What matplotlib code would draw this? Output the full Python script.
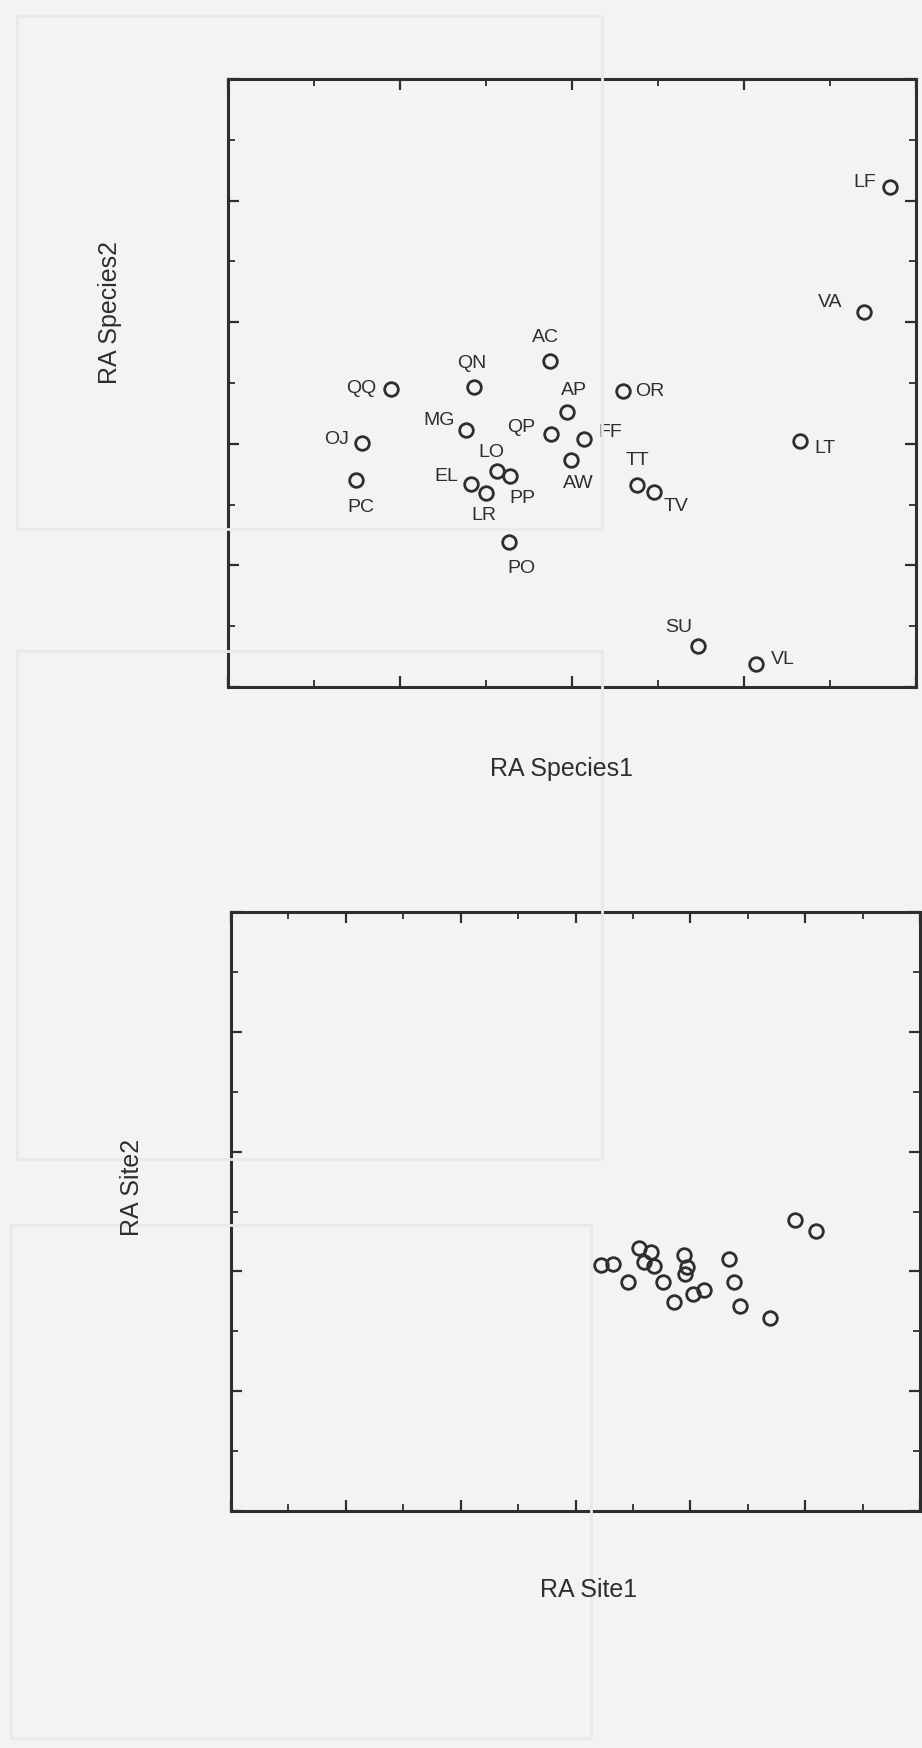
import matplotlib
matplotlib.use("Agg")
import matplotlib.pyplot as plt
from matplotlib.ticker import MultipleLocator
from matplotlib.patches import Rectangle

# species ordination (RA axis 1 / axis 2, arbitrary units)
species = ["LF", "VA", "AC", "QN", "QQ", "OR", "AP", "MG", "QP", "FF", "OJ", "LT",
           "AW", "LO", "PP", "EL", "LR", "PC", "TT", "TV", "PO", "SU", "VL"]
sp_x = [7.70, 7.39, 3.74, 2.86, 1.90, 4.59, 3.94, 2.77, 3.76, 4.14, 1.56, 6.65,
        3.99, 3.13, 3.28, 2.83, 3.00, 1.49, 4.76, 4.95, 3.27, 5.47, 6.14]
sp_y = [8.22, 6.17, 5.36, 4.93, 4.90, 4.87, 4.52, 4.23, 4.16, 4.08, 4.01, 4.05,
        3.73, 3.55, 3.47, 3.34, 3.19, 3.40, 3.32, 3.21, 2.38, 0.67, 0.38]

# site ordination
site_x = [9.83, 10.19, 7.11, 7.31, 7.89, 8.68, 6.44, 6.66, 7.20, 7.36,
          7.95, 7.91, 6.91, 7.53, 8.76, 8.05, 8.23, 7.71, 8.86, 9.39]
site_y = [4.85, 4.68, 4.39, 4.32, 4.27, 4.21, 4.10, 4.12, 4.15, 4.09,
          4.07, 3.96, 3.82, 3.82, 3.82, 3.63, 3.69, 3.49, 3.42, 3.22]

# where each species label sits relative to its circle (pixels, x right / y up)
label_offset = {
    "LF": (-25, 6), "VA": (-33, 10), "AC": (-4, 25), "QN": (-2, 25), "QQ": (-30, 2),
    "OR": (27, 0), "AP": (7, 23), "MG": (-27, 10), "QP": (-30, 8), "FF": (26, 7),
    "OJ": (-26, 5), "LT": (25, -7), "AW": (7, -22), "LO": (-6, 20), "PP": (12, -21),
    "EL": (-25, 8), "LR": (-2, -21), "PC": (5, -26), "TT": (0, 26), "TV": (22, -14),
    "PO": (12, -25), "SU": (-20, 20), "VL": (27, 5),
}

plt.rcParams['font.family'] = ['Liberation Sans', 'DejaVu Sans']
ink = "#2e2e2e"
paper = "#f3f3f1"

fig = plt.figure(figsize=(9.22, 17.49), dpi=100, facecolor=paper)

# faint show-through frames from the scan
for (x0, y0, x1, y1) in [(17, 17, 602, 530), (17, 652, 602, 1160), (11, 1226, 591, 1739)]:
    fig.patches.append(Rectangle((x0 / 922, 1 - y1 / 1749), (x1 - x0) / 922, (y1 - y0) / 1749,
                                 transform=fig.transFigure, fill=False,
                                 edgecolor="#e9e9e7", linewidth=2))


def style_axes(ax, xmax, ymax):
    ax.set_facecolor("none")
    ax.set_xlim(0, xmax)
    ax.set_ylim(0, ymax)
    ax.xaxis.set_major_locator(MultipleLocator(2))
    ax.xaxis.set_minor_locator(MultipleLocator(1))
    ax.yaxis.set_major_locator(MultipleLocator(2))
    ax.yaxis.set_minor_locator(MultipleLocator(1))
    ax.tick_params(which="both", direction="in", top=True, right=True,
                   labelbottom=False, labelleft=False, color=ink)
    ax.tick_params(which="major", length=8, width=1.6)
    ax.tick_params(which="minor", length=5, width=1.3)
    for s in ax.spines.values():
        s.set_color(ink)
        s.set_linewidth(2.2)


# top: species
ax1 = fig.add_axes([228 / 922, 1 - 688 / 1749, 688 / 922, 608 / 1749])
style_axes(ax1, 8, 10)
ax1.plot(sp_x, sp_y, linestyle="none", marker="o", markersize=9.8,
         markerfacecolor="none", markeredgecolor=ink, markeredgewidth=2.0, clip_on=False)
for name, x, y in zip(species, sp_x, sp_y):
    dx, dy = label_offset[name]
    ax1.annotate(name, (x, y), xytext=(dx, dy), textcoords="offset pixels",
                 ha="center", va="center", fontsize=14, color=ink)

# bottom: sites
ax2 = fig.add_axes([231 / 922, 1 - 1512 / 1749, 689 / 922, 599 / 1749])
style_axes(ax2, 12, 10)
ax2.plot(site_x, site_y, linestyle="none", marker="o", markersize=9.8,
         markerfacecolor="none", markeredgecolor=ink, markeredgewidth=2.0)

fig.text(110 / 922, 1 - 312 / 1749, "RA Species2", rotation=90, ha="center", va="center",
         fontsize=18, color=ink)
fig.text(561 / 922, 1 - 769 / 1749, "RA Species1", ha="center", va="center",
         fontsize=18, color=ink)
fig.text(132 / 922, 1 - 1187 / 1749, "RA Site2", rotation=90, ha="center", va="center",
         fontsize=18, color=ink)
fig.text(589 / 922, 1 - 1590 / 1749, "RA Site1", ha="center", va="center",
         fontsize=18, color=ink)

fig.savefig("out.png", dpi=100, facecolor=paper)
